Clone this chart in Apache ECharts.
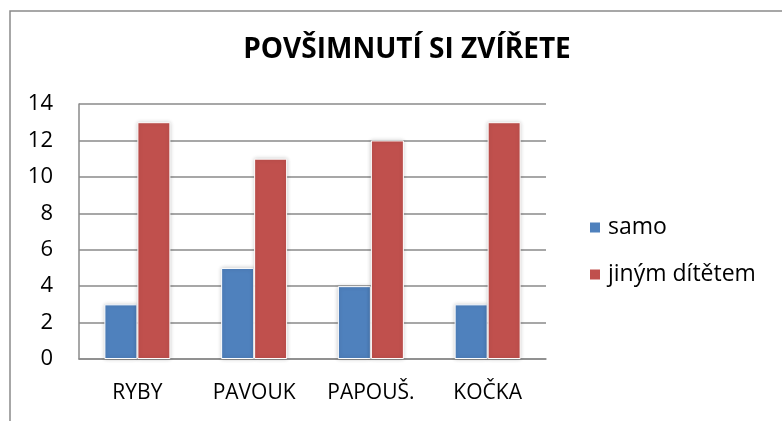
<!DOCTYPE html>
<html>
<head>
<meta charset="utf-8">
<script src="https://cdn.jsdelivr.net/npm/echarts@6/dist/echarts.min.js"></script>
<style>
  html, body { margin: 0; padding: 0; background: #fff; }
  #chart { width: 782px; height: 421px; }
</style>
</head>
<body>
<div id="chart"></div>
<script>
// data
const categories = ['RYBY', 'PAVOUK', 'PAPOUŠ.', 'KOČKA'];
const samo = [3, 5, 4, 3];
const jinymDitetem = [13, 11, 12, 13];
const seriesNames = ['samo', 'jiným dítětem'];

const font = '"Open Sans", "Liberation Sans", sans-serif';
const chart = echarts.init(document.getElementById('chart'));

chart.setOption({
    animation: false,
    backgroundColor: '#fff',
    graphic: [{
        type: 'rect',
        shape: { x: 10, y: 11, width: 820, height: 460 },
        style: { fill: 'none', stroke: '#8a8a8a', lineWidth: 1.5 },
        silent: true
    }],
    title: {
        text: 'POVŠIMNUTÍ SI ZVÍŘETE',
        left: 407,
        top: 36,
        padding: 0,
        textAlign: 'center',
        textStyle: { fontFamily: font, fontWeight: 'bold', fontSize: 28, color: '#000' }
    },
    legend: {
        orient: 'vertical',
        left: 588,
        top: 216,
        padding: 0,
        itemWidth: 12,
        itemHeight: 12,
        itemGap: 24,
        icon: 'rect',
        data: seriesNames,
        textStyle: { fontFamily: font, fontSize: 23, color: '#000', padding: [0, 0, 0, 2] }
    },
    grid: { left: 79, top: 104, width: 467, height: 255 },
    xAxis: {
        type: 'category',
        data: categories,
        axisTick: { show: false },
        axisLine: { lineStyle: { color: '#8a8a8a', width: 1.5 } },
        axisLabel: { interval: 0, fontFamily: font, fontSize: 21, color: '#000', margin: 24 }
    },
    yAxis: {
        type: 'value',
        min: 0,
        max: 14,
        interval: 2,
        axisLine: { show: true, lineStyle: { color: '#8a8a8a', width: 1.5 } },
        axisTick: { show: false },
        splitLine: { lineStyle: { color: '#8a8a8a', width: 1.5 } },
        axisLabel: { fontFamily: font, fontSize: 22, color: '#000', margin: 26 }
    },
    series: [{
        name: seriesNames[0],
        type: 'bar',
        data: samo,
        barWidth: 33,
        barGap: '0%',
        itemStyle: {
            color: '#4F81BD',
            borderColor: '#fff',
            borderWidth: 1,
            shadowColor: 'rgba(0,0,0,0.2)',
            shadowBlur: 4
        }
    }, {
        name: seriesNames[1],
        type: 'bar',
        data: jinymDitetem,
        barWidth: 33,
        itemStyle: {
            color: '#C0504D',
            borderColor: '#fff',
            borderWidth: 1,
            shadowColor: 'rgba(0,0,0,0.2)',
            shadowBlur: 4
        }
    }]
});
</script>
</body>
</html>
